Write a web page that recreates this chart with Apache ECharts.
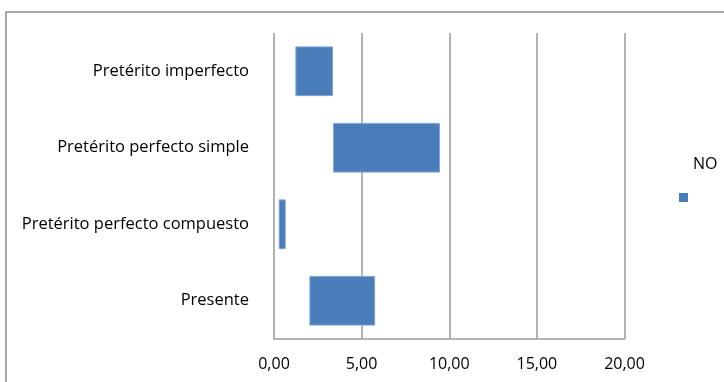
<!DOCTYPE html>
<html>
<head>
<meta charset="utf-8">
<style>
  html, body { margin: 0; padding: 0; background: #ffffff; }
  #chart { width: 724px; height: 382px; }
</style>
<script src="https://cdn.jsdelivr.net/npm/echarts@6/dist/echarts.min.js"></script>
</head>
<body>
<div id="chart"></div>
<script>
// Tense categories, listed bottom to top along the vertical axis
const categories = ['Presente', 'Pretérito perfecto compuesto', 'Pretérito perfecto simple', 'Pretérito imperfecto'];
// Where each floating bar starts and ends on the value axis
const rangeStart = [2.02, 0.27, 3.37, 1.22];
const rangeEnd = [5.77, 0.67, 9.47, 3.37];
const seriesName = 'NO';
const tickLabels = ['0,00', '5,00', '10,00', '15,00', '20,00'];

// The visible bar is stacked on an invisible offset so it floats
const barLength = rangeEnd.map((v, i) => +(v - rangeStart[i]).toFixed(2));

const font = 'Open Sans';
const chart = echarts.init(document.getElementById('chart'));
chart.setOption({
  backgroundColor: '#ffffff',
  animation: false,
  textStyle: { fontFamily: font },
  graphic: [{
    type: 'rect',
    shape: { x: 6, y: 12, width: 760, height: 400 },
    style: { fill: 'none', stroke: '#8a8a8a', lineWidth: 1.5 },
    silent: true
  }],
  grid: { left: 274, right: 99.5, top: 33, bottom: 43 },
  legend: [
    {
      // colour key for the series
      data: [seriesName],
      left: 679,
      top: 193,
      padding: 0,
      itemWidth: 9,
      itemHeight: 9,
      icon: 'rect',
      itemStyle: { color: '#4a7ebb', borderWidth: 0 },
      formatter: function () { return ''; },
      selectedMode: false
    },
    {
      // series name, set above and to the right of its key
      data: [seriesName],
      left: 688,
      top: 156,
      padding: 0,
      itemWidth: 0,
      itemHeight: 9,
      icon: 'none',
      selectedMode: false,
      textStyle: { fontFamily: font, fontSize: 16, color: '#000000' }
    }
  ],
  xAxis: {
    type: 'value',
    min: 0,
    max: 20,
    interval: 5,
    axisLine: { show: true, lineStyle: { color: '#9a9a9a', width: 1.5 } },
    axisTick: { show: false },
    splitLine: { show: true, lineStyle: { color: '#9a9a9a', width: 1.5 } },
    axisLabel: {
      margin: 17,
      fontSize: 16,
      color: '#000000',
      fontFamily: font,
      formatter: function (v) { return tickLabels[Math.round(v / 5)]; }
    }
  },
  yAxis: {
    type: 'category',
    data: categories,
    axisLine: { show: false },
    axisTick: { show: false },
    splitLine: { show: false },
    axisLabel: {
      margin: 25,
      fontSize: 16.5,
      color: '#000000',
      fontFamily: font
    }
  },
  series: [
    {
      name: 'offset',
      type: 'bar',
      stack: 'range',
      data: rangeStart,
      barWidth: '65%',
      itemStyle: { color: 'transparent' },
      silent: true
    },
    {
      name: seriesName,
      type: 'bar',
      stack: 'range',
      data: barLength,
      barWidth: '65%',
      itemStyle: { color: '#4a7ebb', borderColor: '#7fa4d4', borderWidth: 1 }
    }
  ]
});
</script>
</body>
</html>
